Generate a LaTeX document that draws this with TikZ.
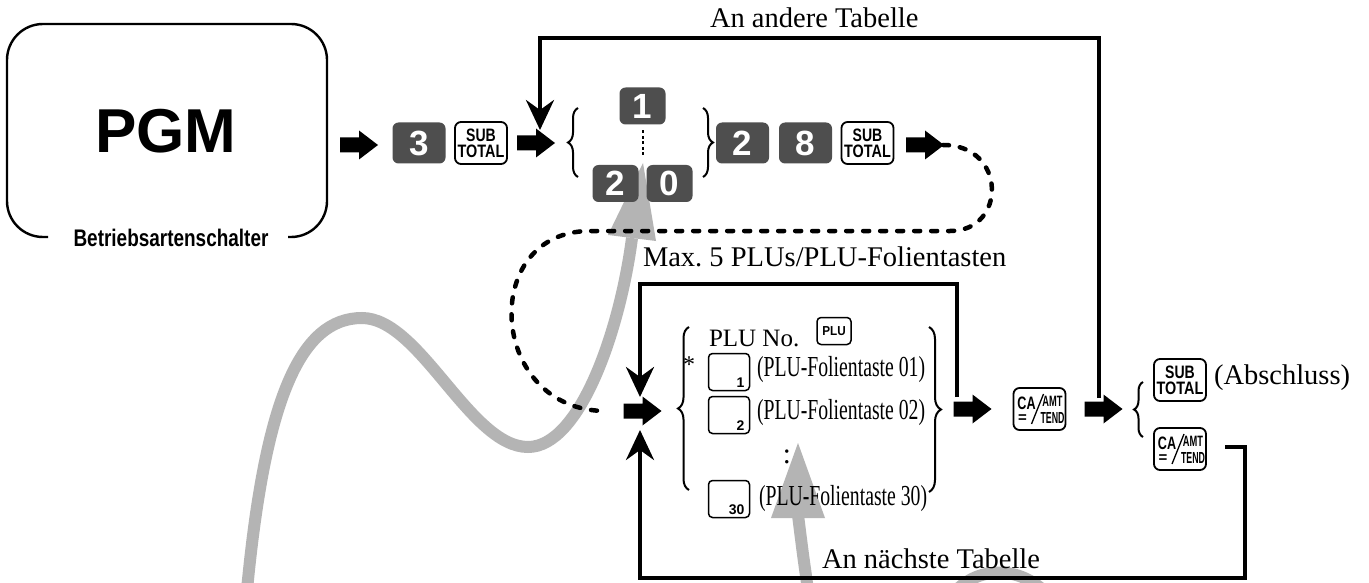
\documentclass[tikz,border=0pt]{standalone}
\usepackage{fontspec}
\usepackage{graphicx}
\setmainfont{Liberation Serif}
\newfontfamily\sansfam{Liberation Sans}
\usetikzlibrary{arrows.meta,decorations.pathreplacing,calc}
\definecolor{keygray}{RGB}{78,78,78}
\definecolor{annot}{RGB}{180,180,180}
\frenchspacing
\tikzset{
  every node/.style={inner sep=0pt, outer sep=0pt},
  darkkey/.style={fill=keygray, rounded corners=6pt, minimum width=53pt, minimum height=41pt, text=white, font=\sansfam\bfseries\fontsize{35}{35}\selectfont},
  smallkey/.style={darkkey, minimum width=46pt, minimum height=37pt},
  wkey/.style={draw, line width=1.8pt, fill=white, rounded corners=6pt, minimum width=52pt, minimum height=42pt},
  numkey/.style={draw, line width=1.5pt, rounded corners=4pt, minimum width=41pt, minimum height=37pt},
  numlab/.style={font=\sansfam\bfseries\fontsize{14}{14}\selectfont, anchor=south east},
  keylab/.style={font=\sansfam\bfseries\fontsize{18}{18}\selectfont},
  lab/.style={font=\fontsize{28.5}{30}\selectfont},
  item/.style={font=\fontsize{29}{30}\selectfont},
  loopline/.style={line width=4pt},
  loopend/.style={-{Stealth[length=30pt,width=28pt,inset=10pt]}},
  dotline/.style={line width=4.5pt, dash pattern=on 6pt off 11pt, line cap=round},
  grayline/.style={line width=12pt, draw=annot},
  bracestyle/.style={decorate, decoration={brace, amplitude=#1}, line width=2pt},
  barrow/.pic={\fill (-19,-7.5) -- (0,-7.5) -- (0,-14.5) -- (19,0) -- (0,14.5) -- (0,7.5) -- (-19,7.5) -- cycle;},
  subtotal/.pic={
    \node[wkey] (-b) {};
    \node[keylab] (-s) at (0,-8) {\scalebox{0.78}[1]{SUB}};
    \node[keylab] (-t) at (0,8.5) {\scalebox{0.8}[1]{TOTAL}};
  },
  cakey/.pic={
    \node[wkey] (-b) {};
    \node[font=\sansfam\bfseries\fontsize{18}{18}\selectfont] (-ca) at (-13,-6) {\scalebox{0.7}[1]{CA}};
    \node[font=\sansfam\bfseries\fontsize{15}{15}\selectfont] (-eq) at (-17,10) {=};
    \node[font=\sansfam\bfseries\fontsize{15}{15}\selectfont] (-amt) at (13,-8) {\scalebox{0.62}[1]{AMT}};
    \node[font=\sansfam\bfseries\fontsize{16}{16}\selectfont] (-tend) at (13,9) {\scalebox{0.55}[1]{TEND}};
    \draw[line width=1.3pt] (-8,15) -- (4,-15);
  },
}
\begin{document}
\begin{tikzpicture}[x=1pt,y=-1pt]
\useasboundingbox (0,0) rectangle (1369,583);
\clip (0,0) rectangle (1369,583);
\fill[white] (0,0) rectangle (1369,583);

% grey annotation arrows (behind everything)
\draw[grayline] (247,590) .. controls (265,400) and (300,318) .. (362,318)
  .. controls (420,318) and (470,447) .. (528,447)
  .. controls (580,447) and (620,330) .. (632,238);
\fill[annot] (643,163) -- (608,235) -- (656,241) -- cycle;
\draw[grayline] (808,590) .. controls (803,555) .. (798,515);
\fill[annot] (798,443) -- (771,518) -- (825,518) -- cycle;
\draw[grayline] (952,595) .. controls (977,565) and (1020,565) .. (1048,595);

% mode switch
\draw[line width=2.4pt, rounded corners=36pt] (48,237) -- (7,237) -- (7,24) -- (327,24) -- (327,237) -- (288,237);
\node[font=\sansfam\bfseries\fontsize{62}{62}\selectfont, anchor=base] (pgm) at (166,153) {PGM};
\node[font=\sansfam\bfseries\fontsize{24}{24}\selectfont, anchor=base] (mode) at (171,246) {\scalebox{0.79}[1]{Betriebsartenschalter}};

% top row
\pic at (359,145) {barrow};
\node[darkkey] (k3) at (419,143) {3};
\pic (st1) at (481,143) {subtotal};
\pic at (536,143) {barrow};
\draw[bracestyle=10pt] (578,177) -- (578,108);
\node[smallkey] (k1) at (642.5,106) {1};
\node[smallkey] (k2a) at (615.5,183.5) {2};
\node[smallkey] (k0a) at (669.5,183.5) {0};
\draw[line width=2pt, dash pattern=on 3pt off 2.5pt] ([yshift=-6pt]k1.south) -- ([yshift=8pt]k1.south |- k2a.north);
\draw[bracestyle=10pt] (703,108) -- (703,177);
\node[darkkey] (k2b) at (742.5,143) {2};
\node[darkkey] (k8) at (805.5,143) {8};
\pic (st2) at (867.5,143) {subtotal};
\pic at (925,145) {barrow};

% labels
\node[lab, anchor=base west] (otherl) at (710,28) {An andere Tabelle};
\node[lab, anchor=base west] (maxl) at (643,266) {Max. 5 PLUs/PLU-Folientasten};
\node[lab, anchor=base west] (nextl) at (822,568) {An nächste Tabelle};

% dotted connector
\coordinate (d0) at (943,145);
\coordinate (d1) at (606,411);
\draw[dotline] (d0) .. controls (1007,145) and (1007,231) .. (950,231) -- (590,231)
  .. controls (478,231) and (488,411) .. (d1);

% PLU block
\pic at (642.5,411) {barrow};
\draw[bracestyle=11pt] (689,490) -- (689,327);
\node[font=\fontsize{25}{26}\selectfont, anchor=base west] (pluno) at (709,346) {PLU No.};
\node[draw, line width=1.5pt, rounded corners=4pt, minimum width=34pt, minimum height=27pt, font=\sansfam\bfseries\fontsize{13}{13}\selectfont] (plukey) at (834,331) {\scalebox{0.9}[1]{PLU}};
\node[font=\fontsize{24}{24}\selectfont, anchor=base] (ast) at (689,372) {*};
\node[numkey] (n1) at (729,372) {};
\node[numlab] (n1l) at ([xshift=-5pt,yshift=3pt]n1.south east) {1};
\node[numkey] (n2) at (729,415) {};
\node[numlab] (n2l) at ([xshift=-5pt,yshift=3pt]n2.south east) {2};
\node[numkey] (n30) at (729,499) {};
\node[numlab] (n30l) at ([xshift=-5pt,yshift=3pt]n30.south east) {30};
\node[item, anchor=west] (i1) at (757,370) {\scalebox{0.68}[1]{(PLU-Folientaste 01)}};
\node[item, anchor=west] (i2) at (757,413) {\scalebox{0.68}[1]{(PLU-Folientaste 02)}};
\node[item, anchor=west] (i30) at (759,499) {\scalebox{0.68}[1]{(PLU-Folientaste 30)}};
\node[item] (colon) at (787,457) {:};
\draw[bracestyle=12pt] (929,327) -- (929,492);
\pic at (972.5,409) {barrow};
\pic (ca1) at (1039.5,409) {cakey};
\pic at (1103.5,409) {barrow};
\draw[bracestyle=9pt] (1143,437) -- (1143,382);
\pic (st3) at (1180,380) {subtotal};
\node[lab, anchor=west] (absch) at (1214,378) {(Abschluss)};
\pic (ca2) at (1180,449) {cakey};

% loops
\coordinate (t0) at (1099,398);
\coordinate (t1) at (540,130);
\draw[loopline, loopend] (t0) -- (1099,38) -- (540,38) -- (t1);
\coordinate (p0) at (957,397);
\coordinate (p1) at (640,397);
\draw[loopline, loopend] (p0) -- (957,284) -- (640,284) -- (p1);
\coordinate (b0) at (1225,447);
\coordinate (b1) at (640,430);
\draw[loopline, loopend] (b0) -- (1245,447) -- (1245,578) -- (640,578) -- (b1);
\end{tikzpicture}
\end{document}
